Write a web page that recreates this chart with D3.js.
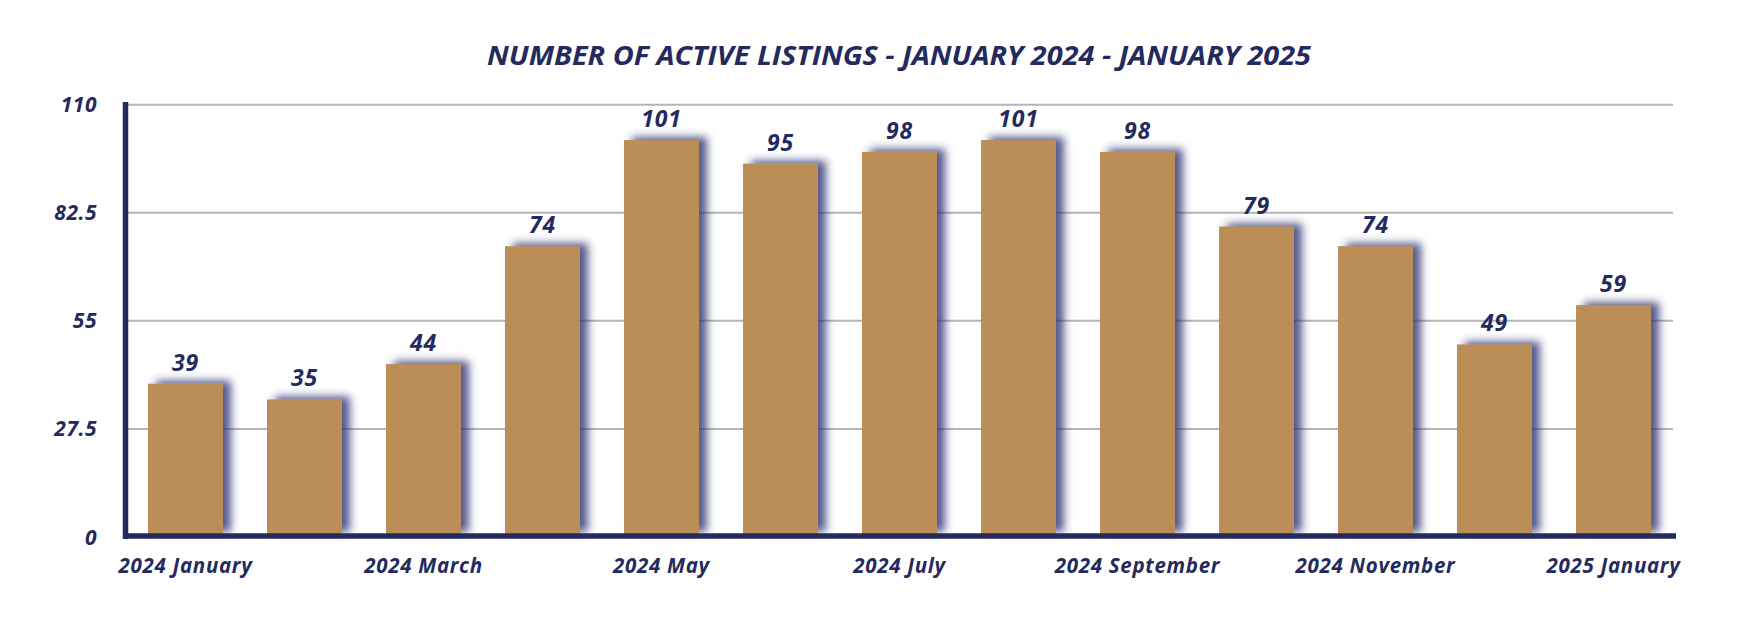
<!DOCTYPE html>
<html><head><meta charset="utf-8">
<script src="https://cdn.jsdelivr.net/npm/d3@7"></script>
<style>
html,body{margin:0;padding:0;background:#fff;}
svg{display:block;font-family:"Open Sans",Lato,sans-serif;}
</style></head>
<body><svg id="c" width="1764" height="628"></svg>
<script>
const categories = ["2024 January","2024 February","2024 March","2024 April","2024 May","2024 June","2024 July","2024 August","2024 September","2024 October","2024 November","2024 December","2025 January"];
const values = [39,35,44,74,101,95,98,101,98,79,74,49,59];
const yTicks = [0,27.5,55,82.5,110];
const shownLabels = ["2024 January","2024 March","2024 May","2024 July","2024 September","2024 November","2025 January"];
const title = "NUMBER OF ACTIVE LISTINGS - JANUARY 2024 - JANUARY 2025";

const navy = "#252a5e", barColor = "#bb8e58", grid = "#b5b5b5";
const svg = d3.select("#c");

const defs = svg.append("defs");
const f = defs.append("filter").attr("id","sh").attr("x","-30%").attr("y","-30%").attr("width","160%").attr("height","160%");
f.append("feDropShadow").attr("dx",8).attr("dy",-3).attr("stdDeviation",4)
 .attr("flood-color","#2b3170").attr("flood-opacity",0.8);

const x = d3.scaleBand().domain(categories).range([128,1671]).paddingInner(0.37).paddingOuter(0.168);
const y = d3.scaleLinear().domain([0,110]).range([537,104.7]);

// gridlines
svg.append("g").selectAll("line").data(yTicks.filter(d=>d>0)).join("line")
  .attr("x1",126).attr("x2",1673).attr("y1",d=>y(d)).attr("y2",d=>y(d))
  .attr("stroke",grid).attr("stroke-width",2);

// y tick labels
svg.append("g").selectAll("text").data(yTicks).join("text")
  .attr("x",97).attr("y",d=>y(d)).attr("dy","0.36em").attr("text-anchor","end")
  .attr("fill",navy).attr("font-size",21).attr("font-weight",700).attr("font-style","italic")
  .attr("letter-spacing",0.5).text(d=>d);

// bars
svg.append("g").selectAll("rect").data(values).join("rect")
  .attr("x",(d,i)=>x(categories[i])).attr("width",x.bandwidth())
  .attr("y",d=>y(d)).attr("height",d=>y(0)-y(d)-2)
  .attr("fill",barColor).attr("filter","url(#sh)");

// value labels
svg.append("g").selectAll("text").data(values).join("text")
  .attr("x",(d,i)=>x(categories[i])+x.bandwidth()/2).attr("y",d=>y(d)-13)
  .attr("text-anchor","middle").attr("fill",navy).attr("font-size",23)
  .attr("letter-spacing",0.8)
  .attr("font-weight",700).attr("font-style","italic").text(d=>d);

// axes lines
svg.append("line").attr("x1",125.5).attr("x2",125.5).attr("y1",102).attr("y2",539)
  .attr("stroke",navy).attr("stroke-width",5.5);
svg.append("line").attr("x1",123).attr("x2",1676).attr("y1",536).attr("y2",536)
  .attr("stroke",navy).attr("stroke-width",5.5);

// x labels
svg.append("g").selectAll("text").data(shownLabels).join("text")
  .attr("x",d=>x(d)+x.bandwidth()/2).attr("y",572.5).attr("text-anchor","middle")
  .attr("fill",navy).attr("font-size",20.5).attr("font-weight",700).attr("font-style","italic")
  .attr("letter-spacing",0.7).text(d=>d);

// title
svg.append("text").attr("x",899).attr("y",65).attr("text-anchor","middle")
  .attr("fill",navy).attr("font-size",27).attr("font-weight",700).attr("font-style","italic")
  .attr("textLength",824).attr("lengthAdjust","spacingAndGlyphs").text(title);
</script></body></html>
